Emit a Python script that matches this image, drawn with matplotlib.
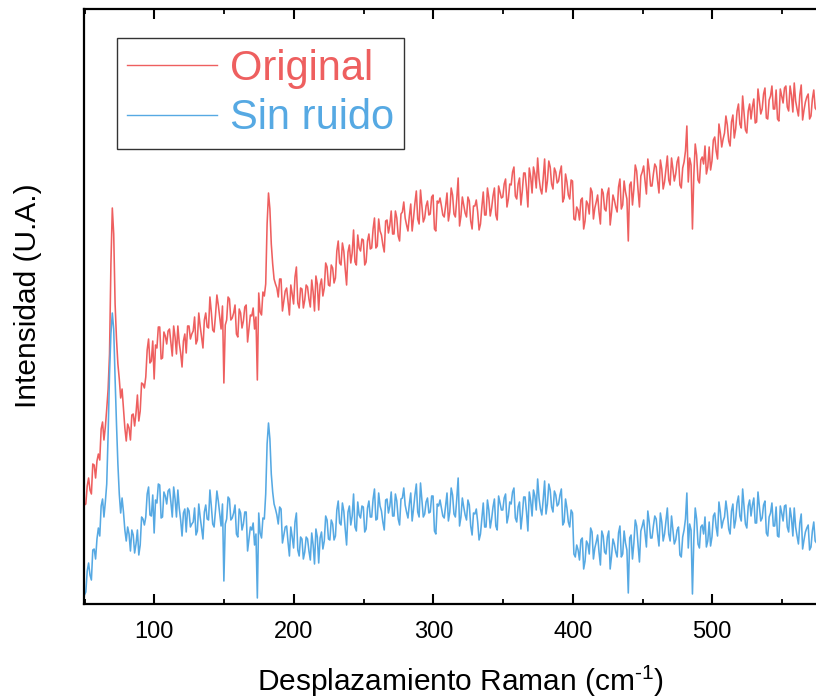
import numpy as np
import matplotlib
matplotlib.use("Agg")
import matplotlib.pyplot as plt
from matplotlib.ticker import MultipleLocator

plt.rcParams["font.family"] = ["Liberation Sans", "DejaVu Sans"]
plt.rcParams["mathtext.fontset"] = "custom"
plt.rcParams["mathtext.rm"] = "Liberation Sans"

RED = "#ee5f5f"
BLUE = "#56a9e3"

# Raman shift (cm^-1): two interleaved sample grids, 2 cm^-1 apart each
shift_a = np.arange(49.8, 577.0, 2.0)   # 264 samples
shift_b = np.arange(50.8, 576.0, 2.0)   # 263 samples

# intensities (a.u.), grid a
original_a = [
    99, 118, 114, 140, 126, 150, 175, 164, 195, 250, 396, 300,
    240, 206, 196, 163, 176, 189, 178, 209, 193, 220, 227, 265,
    243, 225, 256, 277, 246, 268, 273, 262, 278, 250, 261, 237,
    270, 278, 265, 273, 260, 291, 267, 284, 277, 307, 274, 289,
    299, 275, 221, 284, 305, 286, 299, 267, 291, 283, 299, 275,
    288, 275, 224, 292, 312, 320, 411, 360, 325, 316, 325, 293,
    313, 302, 319, 300, 337, 296, 315, 304, 317, 297, 312, 328,
    294, 325, 316, 337, 318, 336, 326, 363, 339, 353, 319, 359,
    351, 342, 369, 353, 364, 342, 370, 356, 386, 358, 373, 359,
    383, 371, 393, 370, 386, 363, 392, 386, 373, 400, 386, 413,
    380, 398, 386, 403, 390, 409, 373, 401, 398, 387, 411, 392,
    409, 387, 426, 388, 399, 387, 403, 375, 398, 392, 380, 412,
    389, 406, 396, 416, 384, 412, 407, 425, 405, 419, 437, 405,
    426, 413, 431, 397, 427, 437, 416, 426, 410, 445, 423, 437,
    415, 432, 423, 438, 406, 422, 405, 423, 384, 394, 404, 375,
    403, 390, 412, 396, 409, 380, 411, 393, 416, 392, 404, 392,
    425, 399, 412, 363, 422, 415, 433, 397, 432, 423, 445, 418,
    430, 437, 411, 435, 422, 448, 419, 435, 430, 447, 416, 442,
    478, 446, 375, 460, 424, 444, 440, 430, 457, 443, 467, 445,
    471, 465, 488, 463, 482, 466, 493, 480, 508, 474, 493, 485,
    505, 482, 503, 495, 516, 485, 508, 495, 514, 483, 508, 516,
    497, 518, 492, 503, 488, 519, 494, 507, 485, 505, 496, 510,
]
sin_ruido_a = [
    9, 33, 29, 54, 45, 76, 98, 87, 120, 230, 291, 225,
    140, 91, 92, 63, 70, 74, 51, 74, 59, 85, 87, 117,
    88, 71, 101, 119, 87, 108, 113, 102, 117, 87, 96, 68,
    95, 96, 77, 82, 69, 100, 76, 92, 85, 114, 80, 94,
    103, 78, 23, 85, 105, 86, 99, 67, 91, 80, 92, 65,
    74, 59, 6, 71, 86, 110, 181, 130, 100, 89, 97, 61,
    77, 62, 77, 56, 91, 48, 65, 52, 65, 44, 59, 75,
    41, 72, 63, 84, 64, 80, 68, 103, 79, 93, 59, 98,
    88, 77, 102, 86, 97, 75, 103, 87, 115, 85, 98, 82,
    104, 91, 112, 88, 103, 79, 106, 99, 86, 111, 95, 120,
    87, 104, 90, 106, 92, 108, 70, 98, 96, 86, 111, 92,
    109, 87, 126, 87, 97, 84, 99, 69, 90, 82, 70, 101,
    77, 94, 85, 105, 74, 101, 94, 110, 88, 100, 116, 82,
    102, 89, 107, 73, 103, 114, 94, 106, 89, 123, 100, 114,
    92, 109, 100, 115, 82, 96, 77, 91, 47, 54, 64, 35,
    63, 50, 72, 56, 69, 39, 68, 50, 73, 48, 60, 47,
    78, 50, 61, 11, 69, 61, 78, 42, 78, 70, 93, 66,
    78, 85, 58, 82, 70, 96, 63, 74, 64, 77, 47, 74,
    111, 80, 10, 96, 60, 77, 70, 57, 82, 67, 91, 68,
    92, 83, 103, 75, 93, 76, 101, 88, 115, 80, 98, 88,
    106, 81, 98, 86, 103, 68, 91, 78, 97, 67, 91, 98,
    77, 96, 68, 77, 60, 90, 64, 76, 54, 73, 63, 77,
]

# grid b
original_b = [
    100, 126, 110, 139, 143, 144, 182, 177, 215, 340, 370, 265,
    225, 215, 176, 180, 164, 190, 191, 183, 221, 216, 254, 241,
    263, 259, 277, 245, 272, 260, 275, 248, 267, 278, 251, 263,
    251, 278, 270, 287, 264, 278, 256, 291, 276, 292, 272, 309,
    287, 298, 279, 307, 284, 291, 270, 295, 276, 297, 262, 289,
    296, 287, 311, 289, 308, 380, 395, 340, 320, 307, 325, 303,
    316, 289, 310, 327, 301, 316, 296, 319, 305, 324, 293, 320,
    319, 308, 341, 319, 339, 321, 353, 341, 361, 335, 352, 341,
    374, 339, 356, 365, 339, 363, 355, 375, 356, 385, 369, 352,
    384, 379, 370, 393, 368, 390, 402, 379, 388, 373, 401, 385,
    414, 382, 398, 389, 407, 375, 403, 406, 389, 398, 383, 416,
    390, 405, 378, 407, 391, 407, 383, 398, 404, 374, 397, 389,
    416, 388, 408, 389, 418, 406, 420, 397, 420, 432, 408, 420,
    399, 431, 416, 436, 411, 430, 446, 415, 426, 412, 443, 420,
    436, 421, 432, 402, 430, 409, 424, 385, 397, 384, 406, 383,
    400, 416, 385, 402, 392, 415, 395, 410, 379, 409, 397, 417,
    395, 423, 405, 419, 399, 439, 414, 428, 438, 410, 434, 418,
    440, 423, 444, 415, 435, 424, 446, 423, 442, 419, 436, 453,
    422, 439, 429, 449, 421, 447, 458, 437, 434, 464, 453, 480,
    457, 471, 479, 458, 489, 475, 500, 476, 491, 471, 500, 497,
    481, 515, 490, 510, 486, 504, 518, 495, 485, 515, 501, 518,
    493, 509, 521, 495, 509, 484, 502, 510, 488, 514, 494,
]
sin_ruido_b = [
    12, 41, 24, 55, 65, 68, 105, 102, 170, 270, 275, 180,
    110, 106, 74, 77, 53, 69, 60, 49, 87, 79, 110, 89,
    109, 104, 120, 86, 112, 100, 115, 87, 105, 114, 84, 91,
    72, 93, 80, 96, 73, 87, 65, 99, 84, 98, 77, 113,
    90, 100, 80, 107, 84, 91, 70, 95, 74, 92, 53, 77,
    81, 70, 91, 66, 85, 160, 165, 112, 95, 80, 95, 69,
    78, 48, 67, 82, 54, 67, 45, 67, 53, 71, 40, 67,
    66, 55, 88, 65, 84, 64, 94, 81, 101, 75, 92, 79,
    110, 73, 89, 98, 72, 96, 87, 105, 84, 111, 93, 74,
    105, 98, 88, 110, 85, 105, 116, 92, 100, 83, 109, 92,
    121, 87, 102, 91, 108, 73, 100, 104, 88, 98, 83, 116,
    90, 105, 78, 106, 89, 104, 78, 91, 95, 64, 86, 77,
    104, 76, 97, 78, 108, 94, 106, 81, 102, 112, 86, 97,
    75, 107, 92, 112, 88, 108, 125, 95, 105, 90, 120, 97,
    113, 98, 109, 79, 105, 82, 94, 50, 59, 44, 66, 43,
    60, 76, 45, 62, 52, 73, 52, 67, 35, 65, 52, 71,
    47, 73, 54, 66, 45, 84, 59, 73, 84, 57, 82, 66,
    88, 70, 91, 63, 83, 70, 88, 60, 74, 49, 67, 85,
    56, 74, 65, 85, 56, 79, 87, 63, 58, 88, 77, 102,
    76, 87, 92, 70, 100, 84, 108, 83, 97, 76, 104, 99,
    81, 112, 83, 99, 71, 87, 101, 78, 68, 98, 83, 99,
    72, 86, 96, 68, 81, 55, 72, 79, 57, 82, 61,
]

shift = np.concatenate([shift_a, shift_b])
order = np.argsort(shift)
shift = shift[order]
original = np.concatenate([original_a, original_b])[order]
sin_ruido = np.concatenate([sin_ruido_a, sin_ruido_b])[order]

fig = plt.figure(figsize=(8.16, 7.0), dpi=100)
ax = fig.add_axes([84 / 816, 96 / 700, 732 / 816, 595 / 700])

ax.plot(shift, original, color=RED, lw=1.15, label="Original")
ax.plot(shift, sin_ruido, color=BLUE, lw=1.15, label="Sin ruido")

ax.set_xlim(49.5, 574.4)
ax.set_ylim(0, 595)
ax.set_yticks([])
ax.xaxis.set_major_locator(MultipleLocator(100))
ax.xaxis.set_minor_locator(MultipleLocator(50))
ax.tick_params(axis="x", which="major", direction="in", top=True,
               length=7, width=1.5, labelsize=17, pad=12)
ax.tick_params(axis="x", which="minor", direction="in", top=True,
               length=3.5, width=1.3)
for s in ("left", "bottom", "top"):
    ax.spines[s].set_linewidth(1.6)
ax.spines["right"].set_visible(False)

ax.set_xlabel(r"Desplazamiento Raman (cm$^{\text{-1}}$)", fontsize=21.5)
ax.xaxis.set_label_coords(0.514, -0.099)
ax.set_ylabel("Intensidad (U.A.)", fontsize=21.5)
ax.yaxis.set_label_coords(-0.0574, 0.519)

leg = ax.legend(loc="upper left", bbox_to_anchor=(0.0451, 0.951),
                borderaxespad=0, fontsize=30, handlelength=2.15,
                handletextpad=0.3, labelspacing=0.23, borderpad=0.25,
                frameon=True, fancybox=False, edgecolor="#333333",
                framealpha=1, labelcolor="linecolor")
leg.get_frame().set_linewidth(1.0)
for line in leg.get_lines():
    line.set_linewidth(1.0)

fig.savefig("out.png", dpi=100)
